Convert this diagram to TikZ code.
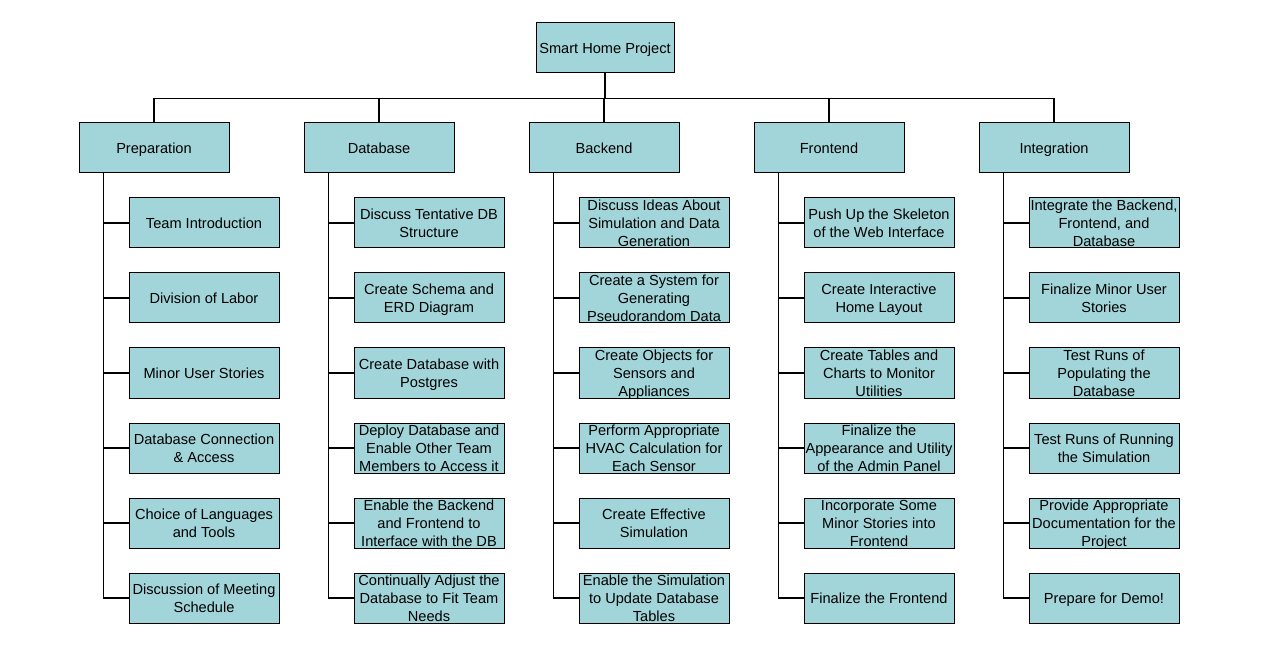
\documentclass[tikz,border=0pt]{standalone}
\usepackage{fontspec}
\setmainfont{Liberation Sans}
\definecolor{boxfill}{RGB}{162,213,217}
\begin{document}
\begin{tikzpicture}[x=1pt,y=-1pt,
  wbox/.style={draw=black,line width=1pt,fill=boxfill,minimum width=150pt,minimum height=50pt,
    inner sep=0pt,align=center,text depth=0pt,font=\fontsize{14.6}{18}\selectfont},
  one/.style={wbox,text height=10.5pt},
  rootbox/.style={one,minimum width=138pt},
  conn/.style={draw=black,line width=1.5pt}]
\useasboundingbox[fill=white] (0,0) rectangle (1288,660);
\node[rootbox] (root) at (605,48) {Smart Home Project};
% level 1
\node[one] (p) at (154,148) {Preparation};
\node[one] (d) at (379,148) {Database};
\node[one] (b) at (604,148) {Backend};
\node[one] (f) at (829,148) {Frontend};
\node[one] (i) at (1054,148) {Integration};
% Preparation
\node[one] (p1) at (204,223) {Team Introduction};
\node[one] (p2) at (204,298) {Division of Labor};
\node[one] (p3) at (204,373) {Minor User Stories};
\node[wbox] (p4) at (204,448) {Database Connection\\\& Access};
\node[wbox] (p5) at (204,523) {Choice of Languages\\and Tools};
\node[wbox] (p6) at (204,598) {Discussion of Meeting\\Schedule};
% Database
\node[wbox] (d1) at (429,223) {Discuss Tentative DB\\Structure};
\node[wbox] (d2) at (429,298) {Create Schema and\\ERD Diagram};
\node[wbox] (d3) at (429,373) {Create Database with\\Postgres};
\node[wbox] (d4) at (429,448) {Deploy Database and\\Enable Other Team\\Members to Access it};
\node[wbox] (d5) at (429,523) {Enable the Backend\\and Frontend to\\Interface with the DB};
\node[wbox] (d6) at (429,598) {Continually Adjust the\\Database to Fit Team\\Needs};
% Backend
\node[wbox] (b1) at (654,223) {Discuss Ideas About\\Simulation and Data\\Generation};
\node[wbox] (b2) at (654,298) {Create a System for\\Generating\\Pseudorandom Data};
\node[wbox] (b3) at (654,373) {Create Objects for\\Sensors and\\Appliances};
\node[wbox] (b4) at (654,448) {Perform Appropriate\\HVAC Calculation for\\Each Sensor};
\node[wbox] (b5) at (654,523) {Create Effective\\Simulation};
\node[wbox] (b6) at (654,598) {Enable the Simulation\\to Update Database\\Tables};
% Frontend
\node[wbox] (f1) at (879,223) {Push Up the Skeleton\\of the Web Interface};
\node[wbox] (f2) at (879,298) {Create Interactive\\Home Layout};
\node[wbox] (f3) at (879,373) {Create Tables and\\Charts to Monitor\\Utilities};
\node[wbox] (f4) at (879,448) {Finalize the\\Appearance and Utility\\of the Admin Panel};
\node[wbox] (f5) at (879,523) {Incorporate Some\\Minor Stories into\\Frontend};
\node[one] (f6) at (879,598) {Finalize the Frontend};
% Integration
\node[wbox] (i1) at (1104,223) {Integrate the Backend,\\Frontend, and\\Database};
\node[wbox] (i2) at (1104,298) {Finalize Minor User\\Stories};
\node[wbox] (i3) at (1104,373) {Test Runs of\\Populating the\\Database};
\node[wbox] (i4) at (1104,448) {Test Runs of Running\\the Simulation};
\node[wbox] (i5) at (1104,523) {Provide Appropriate\\Documentation for the\\Project};
\node[one] (i6) at (1104,598) {Prepare for Demo!};
% connectors root -> categories
\foreach \c in {p,d,b,f,i}{
  \draw[conn] (root.south) -- ++(0,25) -| (\c.north);
}
% connectors categories -> children
\foreach \c in {p,d,b,f,i}{
  \foreach \k in {1,...,6}{
    \draw[conn] ([xshift=25pt]\c.south west) |- (\c\k.west);
  }
}
\end{tikzpicture}
\end{document}
